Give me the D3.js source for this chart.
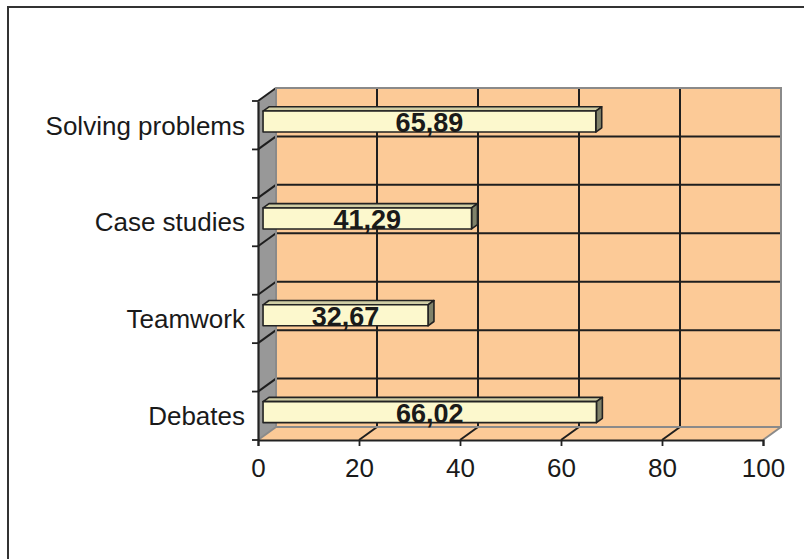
<!DOCTYPE html>
<html>
<head>
<meta charset="utf-8">
<script src="https://cdn.jsdelivr.net/npm/d3@7"></script>
<style>
  html, body { margin: 0; padding: 0; background: #fff; }
  svg { display: block; font-family: "Liberation Sans", Arial, sans-serif; }
</style>
</head>
<body>
<svg id="chart" width="804" height="559"></svg>
<script>
// Category slots, bottom to top (empty slots are blank rows in the sheet)
const categories = ["Debates", "", "Teamwork", "", "Case studies", "", "Solving problems"];
const values     = [66.02, null, 32.67, null, 41.29, null, 65.89];
const valueLabels = ["66,02", "", "32,67", "", "41,29", "", "65,89"];
const xTicks = [0, 20, 40, 60, 80, 100];

const svg = d3.select("#chart");

// Outer chart frame
svg.append("rect")
  .attr("x", 8).attr("y", 7).attr("width", 900).attr("height", 700)
  .attr("fill", "none").attr("stroke", "#333").attr("stroke-width", 2);

// Scales on the front plane of the 3-D box
const x = d3.scaleLinear().domain([0, 100]).range([258, 763]);
const y = d3.scaleBand().domain(d3.range(categories.length)).range([440, 101]).padding(0);

// Depth direction of the box (full depth)
const DX = 18, DY = -13;
const P = (px, py, t) => [px + DX * t, py + DY * t];
const poly = pts => "M" + pts.map(p => p.join(",")).join("L") + "Z";

const x0 = x(0), x1 = x(100), yTop = y.range()[1], yBot = y.range()[0];

const wallFill = "#FCCA97", sideFill = "#989898", gridCol = "#1e1e1e", edgeCol = "#8a8a8a";

// Back wall
svg.append("path")
  .attr("d", poly([P(x0, yTop, 1), P(x1, yTop, 1), P(x1, yBot, 1), P(x0, yBot, 1)]))
  .attr("fill", wallFill);
// Floor
svg.append("path")
  .attr("d", poly([P(x0, yBot, 0), P(x1, yBot, 0), P(x1, yBot, 1), P(x0, yBot, 1)]))
  .attr("fill", wallFill);
// Side wall
svg.append("path")
  .attr("d", poly([P(x0, yTop, 0), P(x0, yTop, 1), P(x0, yBot, 1), P(x0, yBot, 0)]))
  .attr("fill", sideFill);

const grid = svg.append("g").attr("stroke", gridCol).attr("stroke-width", 2).attr("fill", "none");
// Horizontal gridlines at the slot boundaries: back wall plus side wall diagonals
const bounds = d3.range(1, categories.length).map(i => y(i) + y.bandwidth());
bounds.concat([yTop]).forEach(b => {
  const l = d3.line();
  if (b !== yTop) grid.append("path").attr("d", l([P(x0, b, 1), P(x1, b, 1)]));
  grid.append("path").attr("d", l([P(x0, b, 0), P(x0, b, 1)]));
});
// Vertical gridlines on back wall and diagonals on the floor
xTicks.filter(v => v > 0 && v < 100).forEach(v => {
  const l = d3.line();
  grid.append("path").attr("d", l([P(x(v), yTop, 1), P(x(v), yBot, 1)]));
  grid.append("path").attr("d", l([P(x(v), yBot, 0), P(x(v), yBot, 1)]));
});

// Gray edges of the walls
const edges = svg.append("g").attr("stroke", edgeCol).attr("stroke-width", 2).attr("fill", "none");
const le = d3.line();
edges.append("path").attr("d", le([P(x0, yTop, 1), P(x1, yTop, 1), P(x1, yBot, 1), P(x0, yBot, 1), P(x0, yTop, 1)]));
edges.append("path").attr("d", le([P(x1, yBot, 0), P(x1, yBot, 1)]));
edges.append("path").attr("d", le([P(x0, yBot, 0), P(x0, yBot, 1)]));

// Value axis (front edge of the floor)
const xAxis = svg.append("g").attr("transform", `translate(0,${yBot})`)
  .call(d3.axisBottom(x).tickValues(xTicks).tickSize(6).tickPadding(13).tickFormat(d3.format("d")));
xAxis.select(".domain").attr("stroke", "#222").attr("stroke-width", 2);
xAxis.selectAll(".tick line").attr("stroke", "#222").attr("stroke-width", 1.8);
xAxis.selectAll(".tick text").attr("font-size", 26).attr("fill", "#1a1a1a")
  .attr("font-family", "Liberation Sans, Arial, sans-serif");

// Category axis (front left edge)
const yAxis = svg.append("g").attr("transform", `translate(${x0},0)`)
  .call(d3.axisLeft(y).tickValues([]).tickSize(0));
yAxis.select(".domain").attr("stroke", "#222").attr("stroke-width", 2.2);
const tickG = svg.append("g").attr("stroke", "#222").attr("stroke-width", 1.8);
[yTop].concat(bounds, [yBot]).forEach(b => {
  tickG.append("line").attr("x1", x0 - 6).attr("x2", x0).attr("y1", b).attr("y2", b);
});
svg.append("g").selectAll("text")
  .data(categories.map((c, i) => ({ c, i })).filter(d => d.c))
  .join("text")
  .attr("x", x0 - 13)
  .attr("y", d => y(d.i) + y.bandwidth() / 2)
  .attr("dy", "0.36em")
  .attr("text-anchor", "end")
  .attr("font-size", 26)
  .attr("fill", "#1a1a1a")
  .text(d => d.c);

// 3-D bars
const T0 = 0.28, T1 = 0.61, barH = 21;
const bars = categories.map((c, i) => ({ i, v: values[i], label: valueLabels[i] })).filter(d => d.v != null);
const barG = svg.append("g").attr("stroke", "#222").attr("stroke-width", 1.6).attr("stroke-linejoin", "round");
bars.forEach(d => {
  const cy = y(d.i) + y.bandwidth() / 2;
  const t = cy - barH / 2, b = cy + barH / 2;
  const xa = x(0), xb = x(d.v);
  // top face
  barG.append("path").attr("fill", "#CFCDA4")
    .attr("d", poly([P(xa, t, T0), P(xb, t, T0), P(xb, t, T1), P(xa, t, T1)]));
  // end face
  barG.append("path").attr("fill", "#80826A")
    .attr("d", poly([P(xb, t, T0), P(xb, t, T1), P(xb, b, T1), P(xb, b, T0)]));
  // front face
  barG.append("path").attr("fill", "#FCF8CD")
    .attr("d", poly([P(xa, t, T0), P(xb, t, T0), P(xb, b, T0), P(xa, b, T0)]));
  const c = P((xa + xb) / 2, cy, T0);
  svg.append("text")
    .attr("x", c[0]).attr("y", c[1] + 1)
    .attr("dy", "0.36em")
    .attr("text-anchor", "middle")
    .attr("font-size", 27)
    .attr("font-weight", "bold")
    .attr("fill", "#1a1a1a")
    .text(d.label);
});
</script>
</body>
</html>
